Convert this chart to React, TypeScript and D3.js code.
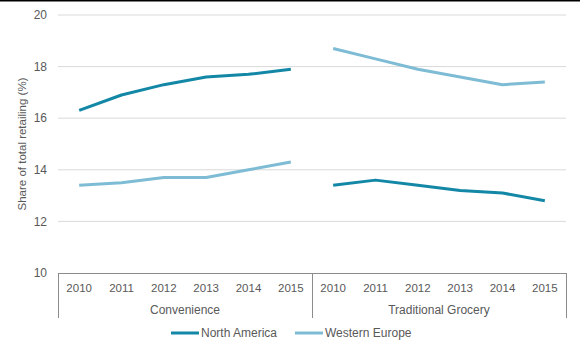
import React from "react";
import * as d3 from "d3";

const groups = ["Convenience", "Traditional Grocery"];
const years = ["2010", "2011", "2012", "2013", "2014", "2015"];
const yTicks = [10, 12, 14, 16, 18, 20];

const northAmerica = {
  Convenience: [16.3, 16.9, 17.3, 17.6, 17.7, 17.9],
  "Traditional Grocery": [13.4, 13.6, 13.4, 13.2, 13.1, 12.8],
};
const westernEurope = {
  Convenience: [13.4, 13.5, 13.7, 13.7, 14.0, 14.3],
  "Traditional Grocery": [18.7, 18.3, 17.9, 17.6, 17.3, 17.4],
};

const series = [
  { name: "North America", color: "#1387a6", values: northAmerica },
  { name: "Western Europe", color: "#7dbcd4", values: westernEurope },
];

export default function App() {
  const W = 580;
  const H = 353;
  const left = 58;
  const right = 566;
  const top = 15;
  const bottom = 273;
  const font = "Liberation Sans, Arial, sans-serif";
  const textColor = "#595959";

  const keys = groups.flatMap((g) => years.map((yr) => `${g}|${yr}`));
  const x = d3.scaleBand<string>().domain(keys).range([left, right]);
  const y = d3.scaleLinear().domain([10, 20]).range([bottom, top]);
  const line = d3
    .line<{ k: string; v: number }>()
    .x((d) => x(d.k)! + x.bandwidth() / 2)
    .y((d) => y(d.v));

  const groupEdges = groups.map((g) => ({
    g,
    x0: x(`${g}|${years[0]}`)!,
    x1: x(`${g}|${years[years.length - 1]}`)! + x.bandwidth(),
  }));

  return (
    <div style={{ position: "absolute", left: 0, top: 0 }}>
      <svg width={W} height={H} style={{ display: "block", background: "#fff" }} fontFamily={font}>
        <line x1={0} x2={W} y1={0.5} y2={0.5} stroke="#000" strokeWidth={2} />
        {yTicks.map((t) => (
          <g key={t}>
            {t > 10 && (
              <line x1={left} x2={right} y1={y(t)} y2={y(t)} stroke="#d9d9d9" strokeWidth={1} />
            )}
            <text x={47} y={y(t)} dy="0.35em" textAnchor="end" fontSize={12} fill={textColor}>
              {t}
            </text>
          </g>
        ))}
        <text
          transform={`translate(22,${(top + bottom) / 2}) rotate(-90)`}
          textAnchor="middle"
          dy="0.35em"
          fontSize={11.5}
          fill={textColor}
        >
          Share of total retailing (%)
        </text>

        {/* category axis box */}
        <line x1={left} x2={right} y1={bottom + 0.5} y2={bottom + 0.5} stroke="#8c8c8c" />
        {[left, groupEdges[0].x1, right].map((xx, i) => (
          <line key={i} x1={xx + 0.5} x2={xx + 0.5} y1={bottom} y2={318} stroke="#8c8c8c" />
        ))}
        {keys.map((k) => (
          <text
            key={k}
            x={x(k)! + x.bandwidth() / 2}
            y={288}
            dy="0.35em"
            textAnchor="middle"
            fontSize={11.5}
            fill={textColor}
          >
            {k.split("|")[1]}
          </text>
        ))}
        {groupEdges.map((e) => (
          <text key={e.g} x={(e.x0 + e.x1) / 2} y={310} dy="0.35em" textAnchor="middle" fontSize={12} fill={textColor}>
            {e.g}
          </text>
        ))}

        {series.map((s) =>
          groups.map((g) => (
            <path
              key={s.name + g}
              d={line((s.values as any)[g].map((v: number, i: number) => ({ k: `${g}|${years[i]}`, v })))!}
              fill="none"
              stroke={s.color}
              strokeWidth={3}
              strokeLinejoin="round"
            />
          ))
        )}

        {/* legend */}
        {series.map((s, i) => {
          const lx = i === 0 ? 171 : 295;
          return (
            <g key={s.name}>
              <line x1={lx} x2={lx + 28} y1={333} y2={333} stroke={s.color} strokeWidth={3} />
              <text x={lx + 30} y={333} dy="0.35em" fontSize={12} fill={textColor}>
                {s.name}
              </text>
            </g>
          );
        })}
      </svg>
    </div>
  );
}
